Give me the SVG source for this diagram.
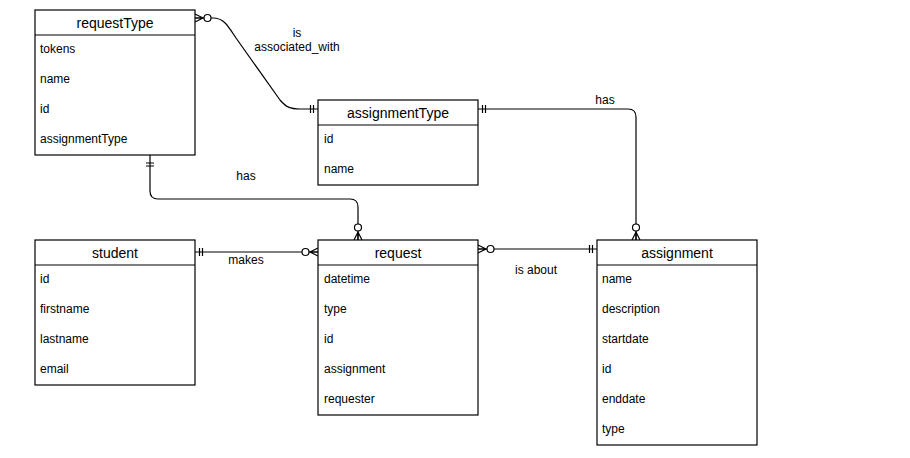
<svg xmlns="http://www.w3.org/2000/svg" width="910" height="458" viewBox="0 0 910 458">
<style>
.box{fill:#fff;stroke:#000;stroke-width:1.2}
.hl{stroke:#000;stroke-width:1.2}
.title{font-family:"Liberation Sans",Arial,sans-serif;font-size:14px;fill:#000;text-anchor:middle}
.attr{font-family:"Liberation Sans",Arial,sans-serif;font-size:12px;fill:#000}
.lbl{font-family:"Liberation Sans",Arial,sans-serif;font-size:12px;fill:#000;text-anchor:middle}
.edge{fill:none;stroke:#000;stroke-width:1.2}
.mk{fill:none;stroke:#000;stroke-width:1.2}
</style>
<defs>
<marker id="many0" markerUnits="userSpaceOnUse" markerWidth="30" markerHeight="30" refX="0" refY="0" orient="auto-start-reverse" overflow="visible" viewBox="-20 -10 30 20">
<path class="mk" d="M0,-4 L-8,0 L0,4 M-8,0 L0,0"/>
<circle cx="-12.5" cy="0" r="3.5" fill="#fff" stroke="#000" stroke-width="1.2"/>
</marker>
<marker id="one1" markerUnits="userSpaceOnUse" markerWidth="30" markerHeight="30" refX="0" refY="0" orient="auto-start-reverse" overflow="visible" viewBox="-20 -10 30 20">
<path class="mk" d="M-4.5,-4 L-4.5,4 M-7.5,-4 L-7.5,4"/>
</marker>
<marker id="one2" markerUnits="userSpaceOnUse" markerWidth="30" markerHeight="30" refX="0" refY="0" orient="auto-start-reverse" overflow="visible" viewBox="-20 -10 30 20">
<path class="mk" d="M-8,-4 L-8,4 M-11,-4 L-11,4"/>
</marker>
</defs>

<g id="connectors">
<path class="edge" d="M195,18 L213,18 C224,18 228,26 236,38 L280,100 C286,107 290,109 300,109 L318,109" marker-start="url(#many0)" marker-end="url(#one1)"/>
<path class="edge" d="M478,109 L628,109 Q636,109 636,117 L636,240" marker-start="url(#one1)" marker-end="url(#many0)"/>
<path class="edge" d="M150,155 L150,191 Q150,199 158,199 L350,199 Q358,199 358,207 L358,240" marker-start="url(#one2)" marker-end="url(#many0)"/>
<path class="edge" d="M195,252 L318,252" marker-start="url(#one1)" marker-end="url(#many0)"/>
<path class="edge" d="M478,249 L597,249" marker-start="url(#many0)" marker-end="url(#one1)"/>
<text class="lbl" x="297" y="37">is</text>
<text class="lbl" x="297" y="51">associated_with</text>
<text class="lbl" x="605" y="104">has</text>
<text class="lbl" x="246" y="180">has</text>
<text class="lbl" x="246" y="264">makes</text>
<text class="lbl" x="536" y="274">is about</text>
</g>

<g id="requestType">
<rect class="box" x="35" y="10" width="160" height="145"/>
<line class="hl" x1="35" y1="35" x2="195" y2="35"/>
<text class="title" x="115" y="28">requestType</text>
<text class="attr" x="40" y="53">tokens</text>
<text class="attr" x="40" y="83">name</text>
<text class="attr" x="40" y="113">id</text>
<text class="attr" x="40" y="143">assignmentType</text>
</g>

<g id="assignmentType">
<rect class="box" x="318" y="100" width="160" height="85"/>
<line class="hl" x1="318" y1="125" x2="478" y2="125"/>
<text class="title" x="398" y="118">assignmentType</text>
<text class="attr" x="324" y="143">id</text>
<text class="attr" x="324" y="173">name</text>
</g>

<g id="student">
<rect class="box" x="35" y="240" width="160" height="145"/>
<line class="hl" x1="35" y1="265" x2="195" y2="265"/>
<text class="title" x="115" y="258">student</text>
<text class="attr" x="40" y="283">id</text>
<text class="attr" x="40" y="313">firstname</text>
<text class="attr" x="40" y="343">lastname</text>
<text class="attr" x="40" y="373">email</text>
</g>

<g id="request">
<rect class="box" x="318" y="240" width="160" height="175"/>
<line class="hl" x1="318" y1="265" x2="478" y2="265"/>
<text class="title" x="398" y="258">request</text>
<text class="attr" x="324" y="283">datetime</text>
<text class="attr" x="324" y="313">type</text>
<text class="attr" x="324" y="343">id</text>
<text class="attr" x="324" y="373">assignment</text>
<text class="attr" x="324" y="403">requester</text>
</g>

<g id="assignment">
<rect class="box" x="597" y="240" width="160" height="205"/>
<line class="hl" x1="597" y1="265" x2="757" y2="265"/>
<text class="title" x="677" y="258">assignment</text>
<text class="attr" x="602" y="283">name</text>
<text class="attr" x="602" y="313">description</text>
<text class="attr" x="602" y="343">startdate</text>
<text class="attr" x="602" y="373">id</text>
<text class="attr" x="602" y="403">enddate</text>
<text class="attr" x="602" y="433">type</text>
</g>
</svg>
